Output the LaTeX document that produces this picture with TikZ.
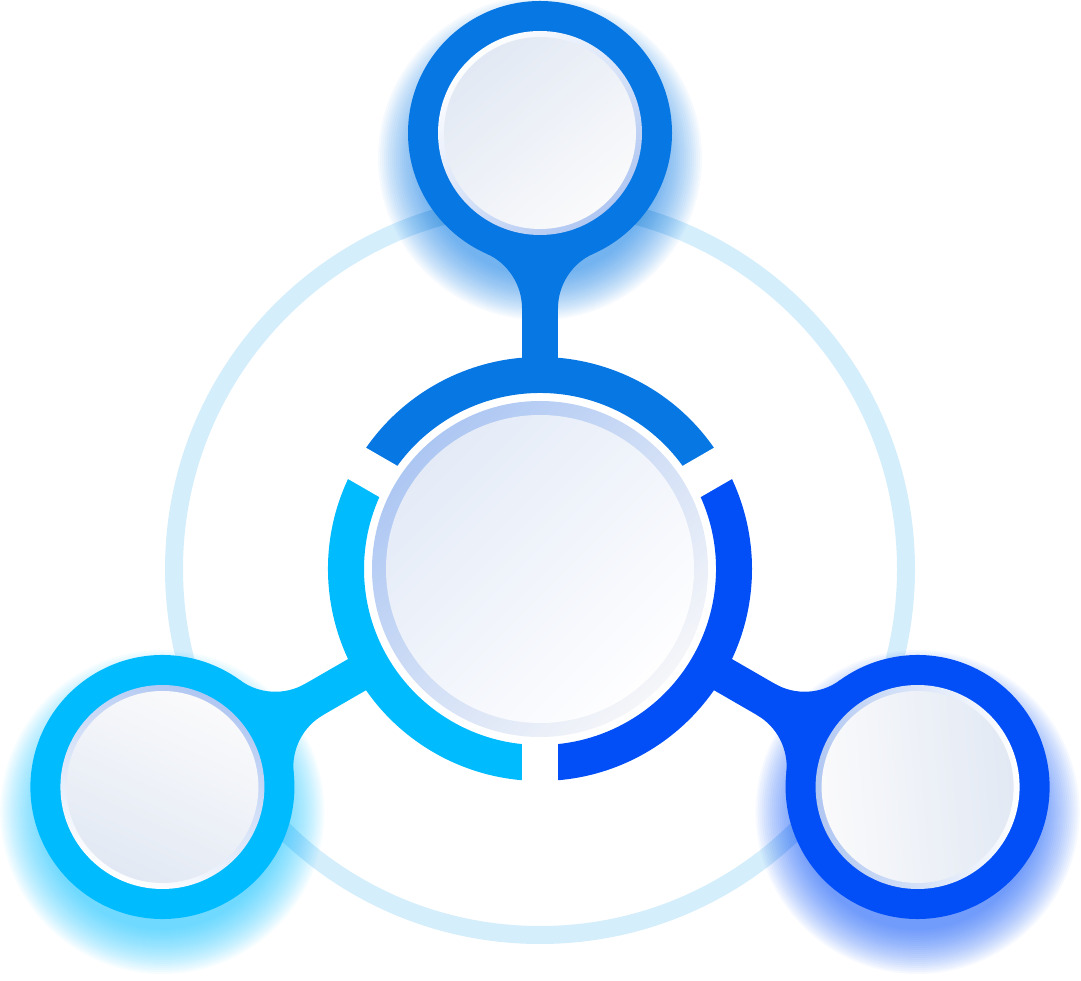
\documentclass[tikz,border=0pt]{standalone}
\usetikzlibrary{calc}
\definecolor{cTop}{HTML}{0677E3}
\definecolor{cLeft}{HTML}{00BCFF}
\definecolor{cRight}{HTML}{034FF7}
\definecolor{ringC}{HTML}{D5EEFC}
\definecolor{rimBlue}{HTML}{B0C7F2}
\definecolor{fillDark}{HTML}{E2E9F4}
\definecolor{fillLight}{HTML}{FAFAFB}
\definecolor{crimBlue}{HTML}{ADC7F3}
\definecolor{crimLight}{HTML}{F5F6F9}
\definecolor{cfillDark}{HTML}{E4EBF7}
\definecolor{cfillLight}{HTML}{FEFEFF}
\tikzset{
  glowlayer/.style={opacity=0.035},
  gapstrip/.style={fill=white},
}
\begin{document}
\begin{tikzpicture}[x=1pt,y=1pt]
\useasboundingbox (0,0) rectangle (1081,980);
\coordinate (C) at (540,411);
\coordinate (ST) at ($(C)+(90:436)$);
\coordinate (SL) at ($(C)+(210:436)$);
\coordinate (SR) at ($(C)+(330:436)$);

% faint outer ring
\draw[ringC, line width=18pt] (C) circle (366);

% glows
\foreach \s/\c in {ST/cTop,SL/cLeft,SR/cRight}{
  \foreach \k in {0,...,22}{
    \fill[\c, glowlayer] ($(\s)+(0,-25)$) circle ({118+2*\k});
  }
}

% satellites with stems
\foreach \s/\c/\r in {ST/cTop/0,SL/cLeft/120,SR/cRight/240}{
  \begin{scope}[shift={(\s)}, rotate=\r]
    \fill[\c] (0,0) circle (132);
    \fill[\c] (-18,-250) rectangle (18,0);
    \fill[\c] (18,-175.4) arc[start angle=180, end angle=114, radius=60] -- (0,0) -- cycle;
    \fill[\c] (-18,-175.4) arc[start angle=0, end angle=66, radius=60] -- (0,0) -- cycle;
  \end{scope}
}

% annulus sectors
\foreach \c/\a/\b in {cTop/30/150,cLeft/150/270,cRight/270/390}{
  \fill[\c] ($(C)+(\a:212)$) arc[start angle=\a, end angle=\b, radius=212]
    -- ($(C)+(\b:176)$) arc[start angle=\b, end angle=\a, radius=176] -- cycle;
}

% gaps
\foreach \g in {30,150,270}{
  \begin{scope}[shift={(C)}, rotate=\g]
    \fill[gapstrip] (150,-18) rectangle (240,18);
  \end{scope}
}

% centre disc
\shade[top color=crimBlue, bottom color=crimLight, shading angle=45] (C) circle (168);
\shade[top color=cfillDark, bottom color=cfillLight, shading angle=45] (C) circle (154);

% satellite inner discs
\foreach \s/\ang in {ST/40,SL/155,SR/-85}{
  \shade[top color=white, bottom color=rimBlue, shading angle=\ang] (\s) circle (102);
  \shade[top color=fillDark, bottom color=fillLight, shading angle=\ang] (\s) circle (96);
}
\end{tikzpicture}
\end{document}
